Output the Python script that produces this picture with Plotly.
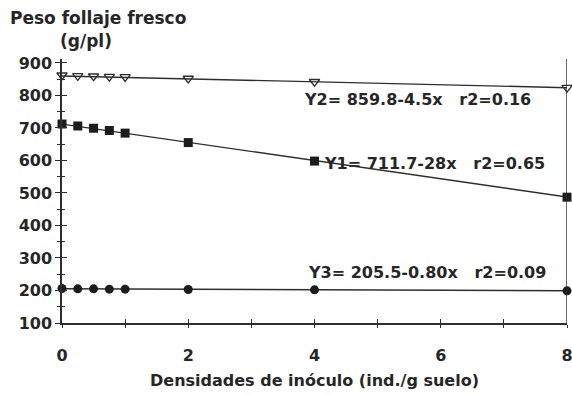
import numpy as np
import plotly.graph_objects as go

# Inoculum densities (ind./g soil)
densidad = [0, 0.25, 0.5, 0.75, 1, 2, 4, 8]

# Fresh foliage weight (g/plant) per series
peso_y2 = [862, 860, 859, 858, 857, 852, 842, 824]
peso_y1 = [712, 706, 699, 692, 684, 655, 598, 487]
peso_y3 = [206, 205, 205, 204, 204, 203, 202, 199]

# Fitted regressions: intercept, slope
ajuste_y2 = (859.8, -4.5)
ajuste_y1 = (711.7, -28.0)
ajuste_y3 = (205.5, -0.80)

etiquetas = [
    "Y2= 859.8-4.5x   r2=0.16",
    "Y1= 711.7-28x   r2=0.65",
    "Y3= 205.5-0.80x   r2=0.09",
]
etiqueta_x = [3.80, 4.12, 3.87]
etiqueta_y = [786, 592, 254]

y_ticks = [100, 200, 300, 400, 500, 600, 700, 800, 900]
x_ticks = [0, 2, 4, 6, 8]

FONT = "DejaVu Sans"
INK = "#262626"
LINE = "#2e2e2e"

fig = go.Figure()

x_fit = np.array([0.0, 8.0])
series = [
    (peso_y2, ajuste_y2, dict(symbol="triangle-down-open", size=9,
                              color=LINE, line=dict(width=1.3, color=LINE))),
    (peso_y1, ajuste_y1, dict(symbol="square", size=9, color="#1c1c1c")),
    (peso_y3, ajuste_y3, dict(symbol="circle", size=9, color="#1c1c1c")),
]
for valores, (a, b), marcador in series:
    fig.add_trace(go.Scatter(
        x=x_fit, y=a + b * x_fit, mode="lines",
        line=dict(color=LINE, width=1.4), cliponaxis=False,
        hoverinfo="skip", showlegend=False))
    fig.add_trace(go.Scatter(
        x=densidad, y=valores, mode="markers", marker=marcador,
        cliponaxis=False, showlegend=False))

for texto, xv, yv in zip(etiquetas, etiqueta_x, etiqueta_y):
    fig.add_annotation(x=xv, y=yv, xref="x", yref="y", text=texto,
                       showarrow=False, xanchor="left", yanchor="middle",
                       font=dict(family=FONT, size=16, color=INK, weight="bold"))

# Axis titles
fig.add_annotation(x=-0.107, y=1.155, xref="paper", yref="paper",
                   text="Peso follaje fresco", showarrow=False,
                   xanchor="left", yanchor="middle",
                   font=dict(family=FONT, size=17, color=INK, weight="bold"))
fig.add_annotation(x=0.047, y=1.07, xref="paper", yref="paper",
                   text="(g/pl)", showarrow=False,
                   xanchor="center", yanchor="middle",
                   font=dict(family=FONT, size=17, color=INK, weight="bold"))
fig.add_annotation(x=0.5, y=-0.216, xref="paper", yref="paper",
                   text="Densidades de inóculo (ind./g suelo)", showarrow=False,
                   xanchor="center", yanchor="middle",
                   font=dict(family=FONT, size=16, color=INK, weight="bold"))

# Right-hand frame line at x = 8
fig.add_shape(type="line", xref="x", yref="paper", x0=8, x1=8, y0=0, y1=1,
              line=dict(color=LINE, width=1.4))

yrange = [100, 912]
xrange = [0, 8]

fig.update_layout(
    width=572, height=396,
    margin=dict(l=62, r=5, t=59, b=73, autoexpand=False),
    paper_bgcolor="white", plot_bgcolor="white",
    font=dict(family=FONT, color=INK),
    xaxis=dict(
        range=xrange, tickvals=x_ticks, ticks="outside", ticklen=3,
        tickcolor=LINE, tickwidth=1.2, showgrid=False, zeroline=False,
        showline=True, linecolor=LINE, linewidth=1.5, automargin=False,
        ticklabelstandoff=14, ticklabeloverflow="allow",
        tickfont=dict(family=FONT, size=16, color=INK, weight="bold"),
        minor=dict(dtick=1, ticks="outside", ticklen=3, tickcolor=LINE,
                   tickwidth=1.2),
    ),
    yaxis=dict(
        range=yrange, tickvals=y_ticks, ticks="outside", ticklen=5,
        tickcolor=LINE, tickwidth=1.2, showgrid=False, zeroline=False,
        showline=True, linecolor=LINE, linewidth=1.5, automargin=False,
        tickfont=dict(family=FONT, size=16, color=INK, weight="bold"),
        minor=dict(dtick=50, ticks="outside", ticklen=3, tickcolor=LINE,
                   tickwidth=1),
    ),
    # Overlaid axes carry the inner half of each crossing tick
    xaxis2=dict(
        range=xrange, overlaying="x", anchor="y", side="bottom",
        tickvals=list(range(0, 9)), ticks="inside", ticklen=4,
        tickcolor=LINE, tickwidth=1.2, showticklabels=False,
        showgrid=False, zeroline=False, showline=False, automargin=False,
    ),
    yaxis2=dict(
        range=yrange, overlaying="y", anchor="x", side="left",
        tickvals=y_ticks, ticks="inside", ticklen=5, tickcolor=LINE,
        tickwidth=1.2, showticklabels=False, showgrid=False,
        zeroline=False, showline=False, automargin=False,
        minor=dict(dtick=50, ticks="inside", ticklen=3, tickcolor=LINE,
                   tickwidth=1),
    ),
)

# Invisible trace so the overlaid axes are drawn
fig.add_trace(go.Scatter(x=[0], y=[100], xaxis="x2", yaxis="y2",
                         mode="markers", marker=dict(opacity=0),
                         hoverinfo="skip", showlegend=False))

fig.write_html("out.html")
